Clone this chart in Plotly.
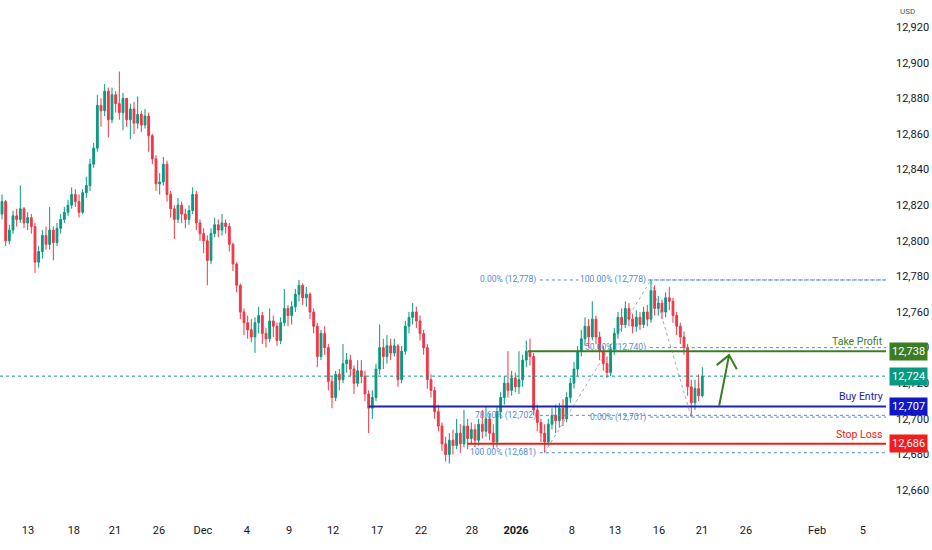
import plotly.graph_objects as go

# 4h-ish candles, open = previous close
first_open = 12815
closes = [
    12822, 12800, 12806, 12814, 12812, 12818, 12810, 12813, 12808, 12788,
    12794, 12803, 12798, 12806, 12799, 12807, 12812, 12816, 12820, 12826,
    12822, 12816, 12827, 12831, 12843, 12852, 12876, 12873, 12884, 12868,
    12882, 12877, 12872, 12880, 12868, 12874, 12866, 12871, 12865, 12870,
    12859, 12846, 12832, 12833, 12843, 12826, 12818, 12812, 12820, 12815,
    12812, 12817, 12826, 12810, 12804, 12800, 12789, 12804, 12809, 12806,
    12810, 12808, 12798, 12787, 12775, 12760, 12754, 12750, 12746, 12754,
    12758, 12748, 12745, 12755, 12752, 12744, 12754, 12762, 12758, 12763,
    12770, 12775, 12768, 12770, 12760, 12752, 12735, 12748, 12740, 12721,
    12712, 12725, 12722, 12731, 12733, 12728, 12720, 12727, 12724, 12714,
    12706, 12712, 12728, 12740, 12735, 12741, 12737, 12741, 12722, 12738,
    12752, 12757, 12760, 12755, 12748, 12740, 12722, 12716, 12704, 12696,
    12686, 12680, 12688, 12685, 12692, 12686, 12696, 12689, 12694, 12688,
    12697, 12693, 12700, 12692, 12687, 12704, 12712, 12720, 12716, 12723,
    12718, 12722, 12733, 12738, 12735, 12705, 12698, 12692, 12687, 12697,
    12702, 12699, 12706, 12700, 12712, 12720, 12728, 12738, 12745, 12752,
    12746, 12756, 12746, 12738, 12731, 12726, 12739, 12748, 12757, 12753,
    12762, 12756, 12752, 12757, 12753, 12760, 12756, 12772, 12762, 12765,
    12760, 12768, 12766, 12758, 12752, 12746, 12740, 12718, 12709, 12717,
    12713, 12724,
]
highs = [
    12826, 12823, 12809, 12817, 12818, 12831, 12819, 12816, 12815, 12810,
    12797, 12806, 12808, 12819, 12808, 12810, 12815, 12819, 12823, 12830,
    12829, 12826, 12829, 12836, 12846, 12855, 12882, 12880, 12888, 12886,
    12886, 12884, 12895, 12883, 12876, 12877, 12878, 12881, 12873, 12874,
    12872, 12860, 12848, 12838, 12847, 12845, 12828, 12820, 12824, 12822,
    12818, 12820, 12830, 12828, 12812, 12807, 12803, 12807, 12813, 12812,
    12815, 12812, 12810, 12799, 12788, 12776, 12762, 12758, 12756, 12757,
    12763, 12760, 12751, 12762, 12758, 12754, 12757, 12773, 12764, 12766,
    12773, 12778, 12776, 12774, 12771, 12762, 12754, 12750, 12752, 12742,
    12724, 12727, 12728, 12742, 12737, 12736, 12730, 12733, 12733, 12727,
    12716, 12716, 12731, 12753, 12745, 12747, 12745, 12745, 12742, 12741,
    12755, 12760, 12765, 12763, 12758, 12750, 12742, 12725, 12718, 12708,
    12698, 12690, 12692, 12694, 12700, 12697, 12705, 12700, 12698, 12697,
    12700, 12705, 12707, 12703, 12697, 12707, 12715, 12724, 12738, 12727,
    12726, 12738, 12736, 12744, 12745, 12737, 12708, 12700, 12697, 12700,
    12706, 12708, 12709, 12711, 12715, 12723, 12732, 12741, 12750, 12757,
    12756, 12766, 12758, 12749, 12741, 12735, 12742, 12751, 12760, 12762,
    12766, 12765, 12759, 12761, 12760, 12763, 12764, 12778, 12775, 12769,
    12767, 12771, 12774, 12768, 12760, 12754, 12749, 12742, 12722, 12722,
    12725, 12729,
]
lows = [
    12812, 12797, 12798, 12804, 12808, 12810, 12807, 12806, 12804, 12782,
    12785, 12790, 12795, 12795, 12789, 12797, 12804, 12810, 12814, 12818,
    12819, 12813, 12815, 12824, 12828, 12841, 12850, 12864, 12870, 12858,
    12866, 12872, 12868, 12862, 12864, 12857, 12860, 12863, 12861, 12863,
    12850, 12843, 12828, 12826, 12831, 12822, 12813, 12801, 12810, 12810,
    12807, 12809, 12815, 12806, 12800, 12793, 12775, 12787, 12802, 12802,
    12803, 12804, 12794, 12783, 12771, 12756, 12747, 12745, 12743, 12737,
    12748, 12742, 12740, 12743, 12746, 12741, 12742, 12752, 12752, 12753,
    12760, 12766, 12764, 12763, 12756, 12748, 12729, 12733, 12736, 12716,
    12706, 12710, 12716, 12720, 12726, 12724, 12714, 12718, 12720, 12710,
    12692, 12700, 12710, 12725, 12728, 12731, 12733, 12735, 12718, 12720,
    12736, 12748, 12753, 12751, 12744, 12736, 12717, 12712, 12700, 12693,
    12682, 12676, 12675, 12680, 12683, 12681, 12684, 12683, 12686, 12684,
    12685, 12689, 12690, 12688, 12683, 12684, 12700, 12708, 12712, 12713,
    12715, 12714, 12718, 12729, 12730, 12702, 12693, 12687, 12681, 12685,
    12694, 12692, 12695, 12696, 12698, 12709, 12717, 12724, 12735, 12741,
    12740, 12744, 12742, 12733, 12727, 12723, 12724, 12736, 12745, 12749,
    12751, 12752, 12748, 12749, 12750, 12751, 12752, 12754, 12758, 12758,
    12756, 12757, 12761, 12754, 12747, 12742, 12736, 12713, 12701, 12705,
    12710, 12712,
]

tick_pos = [7.1, 19.6, 30.8, 42.8, 54.8, 66.8, 78.3, 90.3, 102.3, 114.3,
            128.2, 140.2, 155.4, 167.2, 179.2, 190.9, 202.9, 222.3, 234.8]
tick_text = ["13", "18", "21", "26", "Dec", "4", "9", "12", "17", "22",
             "28", "<b>2026</b>", "8", "13", "16", "21", "26", "Feb", "5"]
price_ticks = list(range(12660, 12921, 20))

last_price = 12724
take_profit = 12738
buy_entry = 12707
stop_loss = 12686

# fib tools: (start bar, [(label, level)])
fib1_start = 146.7
fib1_levels = [("0.00% (12,778)", 12778), ("78.60% (12,702)", 12702), ("100.00% (12,681)", 12681)]
fib2_start = 176.7
fib2_levels = [("100.00% (12,778)", 12778), ("50.00% (12,740)", 12740), ("0.00% (12,701)", 12701)]
swing_x = [148, 177, 188]
swing_y = [12681, 12778, 12701]

arrow_x = [195.6, 198.3, 194.9, 200.4]
arrow_y = [12707.4, 12735.8, 12730.2, 12727.9]

X0, X1 = -0.545, 241.1
Y0, Y1 = 12642.1, 12935.2

UP = "#089981"
DOWN = "#f23645"
GREEN = "#3b7d23"
BLUE = "#1c24a8"
RED = "#ec1c1c"
FIB = "#4f8bd6"

opens = [first_open] + closes[:-1]
xs = list(range(len(closes)))

fig = go.Figure()
fig.add_trace(go.Candlestick(
    x=xs, open=opens, high=highs, low=lows, close=closes,
    increasing=dict(line=dict(color=UP, width=1), fillcolor=UP),
    decreasing=dict(line=dict(color=DOWN, width=1), fillcolor=DOWN),
    whiskerwidth=0, showlegend=False, hoverinfo="skip",
))

# swing connecting line
fig.add_trace(go.Scatter(x=swing_x, y=swing_y, mode="lines",
                         line=dict(color="rgba(130,133,145,0.7)", width=1, dash="dot"),
                         showlegend=False, hoverinfo="skip"))

shapes = []
annos = []

# current price line
shapes.append(dict(type="line", xref="paper", x0=0, x1=1, yref="y", y0=last_price, y1=last_price,
                   line=dict(color=UP, width=1, dash="dot")))

# fib levels
for start, levels, bg in [(fib1_start, fib1_levels, None), (fib2_start, fib2_levels, "white")]:
    for label, lvl in levels:
        shapes.append(dict(type="line", xref="x", x0=start, x1=X1, yref="y", y0=lvl, y1=lvl,
                           line=dict(color=FIB, width=1, dash="dot")))
        a = dict(x=start, xshift=-2, y=lvl, xref="x", yref="y", text=label, showarrow=False,
                 xanchor="right", yanchor="middle", font=dict(size=8.5, color=FIB, family="Roboto"))
        if bg and lvl == 12778:
            a["bgcolor"] = bg
        annos.append(a)

# trade lines
for start, lvl, col, name in [(143.5, take_profit, GREEN, "Take Profit"),
                              (100, buy_entry, BLUE, "Buy Entry"),
                              (127, stop_loss, RED, "Stop Loss")]:
    shapes.append(dict(type="line", xref="x", x0=start, x1=X1, yref="y", y0=lvl, y1=lvl,
                       line=dict(color=col, width=2)))
    annos.append(dict(xref="paper", x=1, xshift=-1, y=lvl, yref="y", text=name, showarrow=False,
                      xanchor="right", yanchor="bottom", yshift=1,
                      font=dict(size=10.5, color=col, family="Roboto")))

# arrow
path = "M {} {} L {} {} M {} {} L {} {} L {} {}".format(
    arrow_x[0], arrow_y[0], arrow_x[1], arrow_y[1],
    arrow_x[2], arrow_y[2], arrow_x[1], arrow_y[1], arrow_x[3], arrow_y[3])
shapes.append(dict(type="path", xref="x", yref="y", path=path, line=dict(color=GREEN, width=2)))

# price boxes on the axis
for lvl, col in [(take_profit, GREEN), (last_price, UP), (buy_entry, "#0f17c8"), (stop_loss, "#f21d1d")]:
    annos.append(dict(xref="paper", x=1, xanchor="left", xshift=3, y=lvl, yref="y",
                      text="{:,}".format(lvl), showarrow=False, bgcolor=col, borderpad=2,
                      font=dict(size=11, color="white", family="Roboto")))

annos.append(dict(xref="paper", x=1, xanchor="left", xshift=12, yref="paper", y=1, yanchor="top",
                  yshift=-5, text="USD", showarrow=False, font=dict(size=8, color="#50535e", family="Roboto")))

fig.update_layout(
    width=932, height=550,
    margin=dict(l=0, r=46, t=0, b=28),
    paper_bgcolor="white", plot_bgcolor="white",
    shapes=shapes, annotations=annos,
    font=dict(family="Roboto", size=11, color="#131722"),
    xaxis=dict(range=[X0, X1], showgrid=False, zeroline=False, rangeslider=dict(visible=False),
               tickmode="array", tickvals=tick_pos, ticktext=tick_text, ticks="",
               showline=False, tickfont=dict(size=11, color="#131722")),
    yaxis=dict(range=[Y0, Y1], side="right", showgrid=False, zeroline=False,
               tickmode="array", tickvals=price_ticks, tickformat=",d", ticks="",
               ticklabelstandoff=9, tickfont=dict(size=11, color="#131722")),
)

# page body has a default 8px margin; drop it so the figure sits at the corner
fig.write_html("out.html", config=dict(displayModeBar=False),
               post_script="document.body.style.margin='0';")
